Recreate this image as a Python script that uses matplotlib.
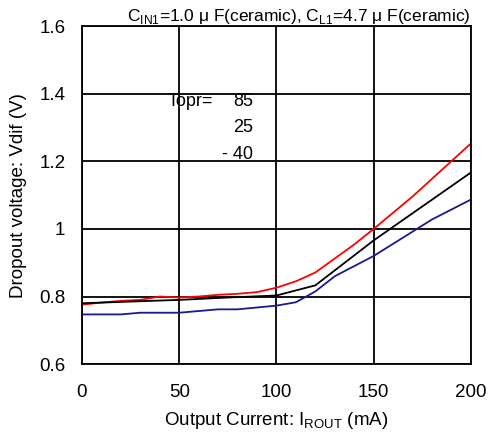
import matplotlib
matplotlib.use("Agg")
import matplotlib.pyplot as plt

plt.rcParams['font.family'] = ['Liberation Sans', 'DejaVu Sans']

# output current (mA) and dropout voltage (V) for each temperature
i_85 = [0, 10, 20, 30, 40, 50, 60, 70, 80, 90, 100, 110, 120, 140, 150, 170, 200]
v_85 = [0.776, 0.782, 0.787, 0.79, 0.8, 0.797, 0.8, 0.805, 0.808, 0.813, 0.826, 0.845, 0.871,
        0.954, 1.0, 1.096, 1.253]

i_25 = [0, 25, 50, 75, 100, 120, 150, 200]
v_25 = [0.78, 0.785, 0.79, 0.797, 0.803, 0.833, 0.966, 1.167]

i_m40 = [0, 20, 30, 50, 70, 80, 100, 110, 120, 130, 140, 150, 180, 200]
v_m40 = [0.747, 0.747, 0.752, 0.752, 0.762, 0.762, 0.773, 0.783, 0.815, 0.86, 0.89, 0.92,
         1.028, 1.087]

x_ticks = [0, 50, 100, 150, 200]
y_ticks = [0.6, 0.8, 1.0, 1.2, 1.4, 1.6]
y_labels = ["0.6", "0.8", "1", "1.2", "1.4", "1.6"]

fig = plt.figure(figsize=(4.88, 4.44), dpi=100)
ax = fig.add_axes([0.168, 0.18, 0.797, 0.761])

ax.plot(i_85, v_85, color="red", lw=1.3)
ax.plot(i_25, v_25, color="black", lw=1.3)
ax.plot(i_m40, v_m40, color="#1a1a8c", lw=1.3)

ax.set_xlim(0, 200)
ax.set_ylim(0.6, 1.6)
ax.set_xticks(x_ticks)
ax.set_yticks(y_ticks)
ax.set_yticklabels(y_labels)
ax.tick_params(length=0)
ax.tick_params(axis="x", pad=14, labelsize=13.5)
ax.tick_params(axis="y", pad=12, labelsize=13.5)
ax.grid(True, color="black", lw=1.3)
for s in ax.spines.values():
    s.set_linewidth(1.3)

ax.set_xlabel("Output Current: I$_{\\mathregular{ROUT}}$ (mA)", fontsize=13.5, labelpad=7)
ax.set_ylabel("Dropout voltage: Vdif (V)", fontsize=13.5, labelpad=9)
ax.set_title("C$_{\\mathregular{IN1}}$=1.0 \u03bc F(ceramic), C$_{\\mathregular{L1}}$=4.7 \u03bc F(ceramic)",
             fontsize=12.5, loc="right", pad=2)

ax.text(44, 1.376, "Topr=", fontsize=13, va="center", ha="left")
ax.text(88, 1.376, "85", fontsize=13, va="center", ha="right")
ax.text(88, 1.30, "25", fontsize=13, va="center", ha="right")
ax.text(88, 1.22, "- 40", fontsize=13, va="center", ha="right")

fig.savefig("out.png", dpi=100)
